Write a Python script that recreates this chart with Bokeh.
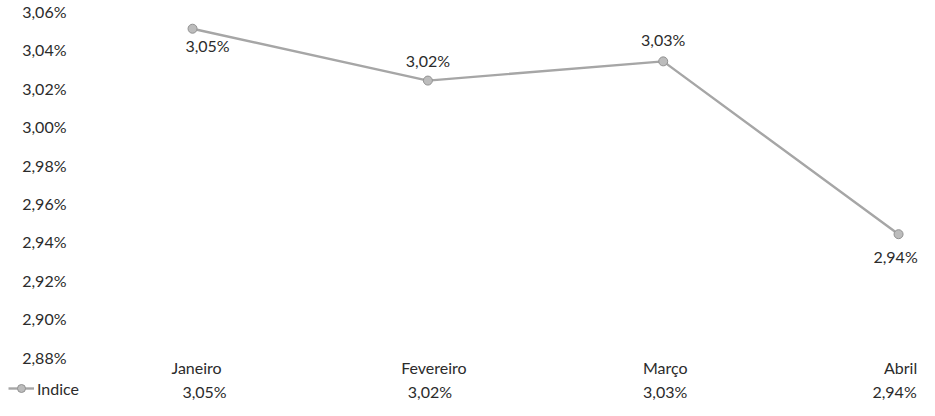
from bokeh.plotting import figure
from bokeh.models import ColumnDataSource, Range1d, Legend, LegendItem
from bokeh.core.properties import value
from bokeh.embed import file_html
from bokeh.resources import INLINE

# ---- data ----
categories = ["Janeiro", "Fevereiro", "Março", "Abril"]
indice = [3.051, 3.024, 3.034, 2.944]
y_ticks = [2.88, 2.90, 2.92, 2.94, 2.96, 2.98, 3.00, 3.02, 3.04, 3.06]
series_name = "Indice"

FONT = "Lato"
FS = "16px"
TXT = "#2b2b2b"

def fmt(v):
    return f"{v:.2f}".replace(".", ",") + "%"

xs = list(range(len(categories)))
labels = [fmt(v) for v in indice]
tick_labels = [fmt(v) for v in y_ticks]

X0, X1 = -0.816, 3.089
p = figure(width=919, height=400, output_backend="svg", toolbar_location=None,
           x_range=Range1d(X0, X1), y_range=Range1d(2.8574, 3.0657),
           min_border=0)
p.outline_line_color = None
p.grid.visible = False
p.axis.visible = False

# y tick labels (value axis) drawn from the tick list
tsrc_y = ColumnDataSource(dict(x=[X0] * len(y_ticks), y=y_ticks, t=tick_labels))
p.text("x", "y", text="t", source=tsrc_y, x_offset=66, text_align="right",
       text_baseline="middle", text_font=value(FONT), text_font_size=FS,
       text_color=TXT)

src = ColumnDataSource(dict(x=xs, y=indice, lab=labels, cat=categories,
                            xo=[15, 0, 0, -3], yo=[17, -20, -22, 22]))

ln = p.line("x", "y", source=src, line_color="#a6a6a6", line_width=2.4)
mk = p.scatter("x", "y", source=src, size=9, fill_color="#bcbcbc",
               line_color="#929292", line_width=1)

# data labels
p.text("x", "y", text="lab", source=src, x_offset="xo", y_offset="yo",
       text_align="center", text_baseline="middle", text_font=value(FONT),
       text_font_size=FS, text_color=TXT)

# data table under the chart
tsrc = ColumnDataSource(dict(x=xs, yb=[y_ticks[0]] * len(xs), cat=categories, lab=labels,
                             xo1=[4, 6, 2, 2], xo2=[12, 2, 2, -4]))
p.text("x", "yb", text="cat", source=tsrc, x_offset="xo1", y_offset=10,
       text_align="center", text_baseline="middle", text_font=value(FONT),
       text_font_size=FS, text_color=TXT)
p.text("x", "yb", text="lab", source=tsrc, x_offset="xo2", y_offset=34,
       text_align="center", text_baseline="middle", text_font=value(FONT),
       text_font_size=FS, text_color=TXT)

legend = Legend(items=[LegendItem(label=series_name, renderers=[ln, mk])],
                location=(8, 2), border_line_color=None, background_fill_alpha=0,
                padding=0, margin=0, label_text_font=FONT, label_text_font_size=FS,
                label_text_color=TXT, glyph_width=26, label_standoff=3)
p.add_layout(legend)

open("out.html", "w").write(file_html(p, INLINE))
